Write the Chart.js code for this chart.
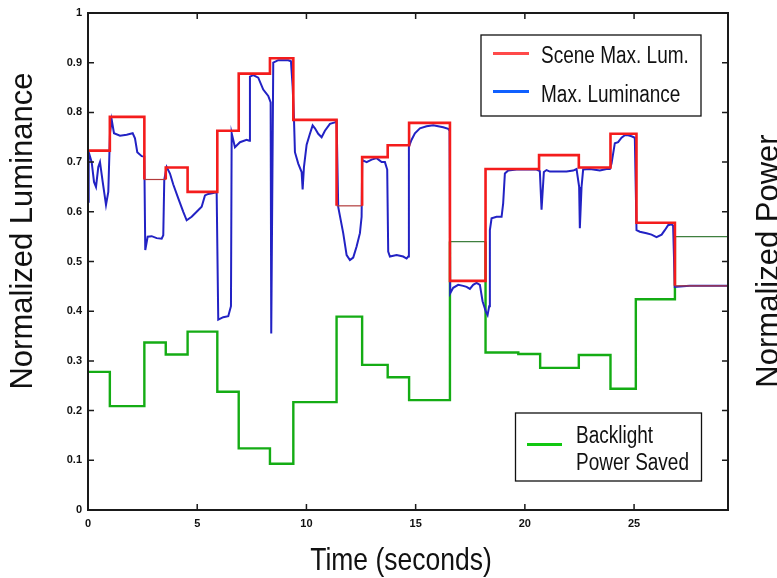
<!DOCTYPE html>
<html>
<head>
<meta charset="utf-8">
<title>Luminance and backlight power</title>
<script src="https://cdn.jsdelivr.net/npm/chart.js@4.4.1/dist/chart.umd.min.js"></script>
<style>
  html, body { margin: 0; padding: 0; background: #fff; }
  #wrap { width: 777px; height: 578px; }
</style>
</head>
<body>
<div id="wrap"><canvas id="lumChart" width="777" height="578"></canvas></div>
<script>
// Scene max luminance: level holds from each start time to the next one
const sceneTimes = [0, 1.0, 2.58, 3.56, 4.56, 5.92, 6.9, 8.33, 9.4, 11.38, 12.55, 13.72, 14.7, 16.57, 18.2, 20.65, 22.47, 23.92, 25.11, 26.87];
const sceneMaxLum = [0.723, 0.791, 0.665, 0.689, 0.640, 0.763, 0.878, 0.909, 0.785, 0.612, 0.710, 0.734, 0.779, 0.461, 0.686, 0.714, 0.689, 0.757, 0.578, 0.451];

// Measured max luminance (seconds, normalized)
const lumTimes = [
  0, 0.032, 0.169, 0.275, 0.366, 0.471, 0.549, 0.673, 0.824, 0.929,
  1.007, 1.085, 1.190, 1.465, 1.771, 2.046, 2.151, 2.256, 2.458, 2.577,
  2.622, 2.732, 2.915, 3.144, 3.373, 3.446, 3.492, 3.602, 3.753, 3.904,
  4.133, 4.362, 4.517, 4.746, 4.975, 5.204, 5.355, 5.506, 5.735, 5.890,
  5.963, 6.192, 6.421, 6.545, 6.577, 6.728, 6.957, 7.263, 7.382, 7.414,
  7.565, 7.794, 8.023, 8.252, 8.362, 8.389, 8.481, 8.709, 8.938, 9.167,
  9.291, 9.368, 9.428, 9.474, 9.625, 9.780, 9.826, 9.886, 10.009, 10.160,
  10.284, 10.389, 10.540, 10.696, 10.847, 11.076, 11.304, 11.382, 11.455, 11.684,
  11.840, 11.991, 12.142, 12.297, 12.449, 12.526, 12.554, 12.755, 12.984, 13.213,
  13.442, 13.593, 13.698, 13.744, 13.822, 14.128, 14.430, 14.586, 14.659, 14.691,
  14.815, 14.966, 15.195, 15.501, 15.803, 16.032, 16.261, 16.490, 16.554, 16.581,
  16.719, 16.947, 17.176, 17.332, 17.483, 17.634, 17.789, 17.941, 18.064, 18.215,
  18.293, 18.366, 18.398, 18.476, 18.705, 18.934, 19.007, 19.085, 19.236, 19.620,
  20.078, 20.535, 20.686, 20.764, 20.870, 20.993, 21.144, 21.451, 21.908, 22.211,
  22.366, 22.485, 22.517, 22.595, 22.668, 22.975, 23.432, 23.739, 23.890, 23.968,
  24.119, 24.270, 24.426, 24.577, 24.728, 24.883, 25.034, 25.112, 25.263, 25.570,
  25.799, 26.027, 26.261, 26.407, 26.558, 26.714, 26.787, 26.865, 27.551, 29.3
];
const lumValues = [
  0.62, 0.72, 0.70, 0.66, 0.65, 0.69, 0.70, 0.66, 0.614, 0.64,
  0.758, 0.785, 0.758, 0.753, 0.755, 0.758, 0.748, 0.72, 0.712, 0.711,
  0.523, 0.55, 0.551, 0.547, 0.546, 0.553, 0.665, 0.69, 0.677, 0.655,
  0.627, 0.600, 0.583, 0.59, 0.60, 0.61, 0.633, 0.636, 0.638, 0.640,
  0.383, 0.388, 0.39, 0.41, 0.758, 0.73, 0.74, 0.745, 0.743, 0.872,
  0.875, 0.87, 0.846, 0.833, 0.82, 0.355, 0.90, 0.905, 0.905, 0.905,
  0.903, 0.852, 0.79, 0.72, 0.697, 0.68, 0.645, 0.69, 0.735, 0.757,
  0.774, 0.768, 0.757, 0.75, 0.763, 0.777, 0.78, 0.782, 0.61, 0.557,
  0.513, 0.503, 0.508, 0.53, 0.557, 0.59, 0.704, 0.70, 0.705, 0.708,
  0.70, 0.70, 0.685, 0.52, 0.51, 0.513, 0.51, 0.506, 0.51, 0.731,
  0.745, 0.758, 0.768, 0.772, 0.774, 0.772, 0.77, 0.767, 0.763, 0.436,
  0.447, 0.453, 0.451, 0.449, 0.445, 0.453, 0.457, 0.453, 0.42, 0.399,
  0.392, 0.41, 0.563, 0.587, 0.59, 0.59, 0.617, 0.677, 0.683, 0.685,
  0.685, 0.685, 0.682, 0.604, 0.68, 0.684, 0.681, 0.681, 0.681, 0.683,
  0.686, 0.65, 0.567, 0.65, 0.685, 0.686, 0.683, 0.686, 0.686, 0.697,
  0.738, 0.74, 0.749, 0.754, 0.754, 0.752, 0.749, 0.563, 0.56, 0.557,
  0.554, 0.549, 0.554, 0.563, 0.573, 0.575, 0.572, 0.449, 0.451, 0.451
];

// Backlight power saved, also piecewise constant
const powerTimes = [0, 1.0, 2.58, 3.56, 4.56, 5.92, 6.9, 8.33, 9.4, 11.38, 12.55, 13.72, 14.7, 16.57, 18.2, 19.7, 20.7, 22.47, 23.92, 25.08, 26.87];
const powerSaved = [0.278, 0.209, 0.337, 0.313, 0.359, 0.238, 0.124, 0.093, 0.217, 0.389, 0.292, 0.267, 0.221, 0.540, 0.317, 0.314, 0.286, 0.312, 0.244, 0.424, 0.550];

const endTime = 29.3;
const xTicks = [0, 5, 10, 15, 20, 25];
const xTickLabels = ['0', '5', '10', '15', '20', '25'];
const yTicks = [0, 0.1, 0.2, 0.3, 0.4, 0.5, 0.6, 0.7, 0.8, 0.9, 1];
const yTickLabels = ['0', '0.1', '0.2', '0.3', '0.4', '0.5', '0.6', '0.7', '0.8', '0.9', '1'];

// step levels printed with a thin hairline in the original plot
const thinSceneSteps = [2, 9, 19];
const thinPowerSteps = [13, 20];

const FONT = '"Liberation Sans", Arial, Helvetica, sans-serif';

// corner points of a step line: each level runs flat to the next start time, then jumps
function stepCorners(times, levels) {
  const pts = [];
  levels.forEach((lv, i) => {
    const t1 = i + 1 < times.length ? times[i + 1] : endTime;
    pts.push({ x: times[i], y: lv }, { x: t1, y: lv });
  });
  return pts;
}

// segment styling: even start index = flat part of step (index / 2)
function stepStyle(thin, normal, hair) {
  return ctx => {
    const i = ctx.p0DataIndex;
    if (i % 2 === 0 && thin.includes(i / 2)) return hair;
    return normal;
  };
}

// horizontal text, stretched vertically around its baseline
function drawText(ctx, text, x, y, size, sy, align) {
  ctx.save();
  ctx.translate(x, y);
  ctx.scale(1, sy);
  ctx.font = size + 'px ' + FONT;
  ctx.textAlign = align || 'left';
  ctx.textBaseline = 'alphabetic';
  ctx.fillText(text, 0, 0);
  ctx.restore();
}

// text reading bottom to top, x is the baseline
function drawUpText(ctx, text, x, y, size) {
  ctx.save();
  ctx.translate(x, y);
  ctx.rotate(-Math.PI / 2);
  ctx.font = size + 'px ' + FONT;
  ctx.textAlign = 'center';
  ctx.textBaseline = 'alphabetic';
  ctx.fillText(text, 0, 0);
  ctx.restore();
}

function legendBox(ctx, x, y, w, h) {
  ctx.fillStyle = '#fff';
  ctx.fillRect(x, y, w, h);
  ctx.strokeStyle = '#111';
  ctx.lineWidth = 1.3;
  ctx.strokeRect(x, y, w, h);
}

function sample(ctx, x1, x2, y, color) {
  ctx.strokeStyle = color;
  ctx.lineWidth = 3;
  ctx.beginPath();
  ctx.moveTo(x1, y);
  ctx.lineTo(x2, y);
  ctx.stroke();
}

const framePlugin = {
  id: 'frame',
  afterDatasetsDraw(chart) {
    const { ctx, chartArea: a, scales: { x, y } } = chart;
    ctx.save();

    // axes box
    ctx.strokeStyle = '#1a1a1a';
    ctx.lineWidth = 2;
    ctx.strokeRect(a.left, a.top, a.right - a.left, a.bottom - a.top);

    // tick marks point inwards on all four sides
    ctx.lineWidth = 1.5;
    ctx.beginPath();
    xTicks.forEach(v => {
      const px = x.getPixelForValue(v);
      ctx.moveTo(px, a.bottom); ctx.lineTo(px, a.bottom - 6);
      ctx.moveTo(px, a.top); ctx.lineTo(px, a.top + 6);
    });
    yTicks.forEach(v => {
      const py = y.getPixelForValue(v);
      ctx.moveTo(a.left, py); ctx.lineTo(a.left + 6, py);
      ctx.moveTo(a.right, py); ctx.lineTo(a.right - 6, py);
    });
    ctx.stroke();

    // legends
    legendBox(ctx, 481, 35, 220, 81);
    sample(ctx, 493, 529, 53.5, '#ff4a4a');
    sample(ctx, 493, 529, 91.5, '#1060ff');
    ctx.fillStyle = '#111';
    drawText(ctx, 'Scene Max. Lum.', 541, 63.3, 19, 1.22);
    drawText(ctx, 'Max. Luminance', 541, 102.3, 19, 1.22);

    legendBox(ctx, 515.5, 413, 186, 68);
    sample(ctx, 527, 562, 444.5, '#12c812');
    ctx.fillStyle = '#111';
    drawText(ctx, 'Backlight', 576, 443.3, 19, 1.22);
    drawText(ctx, 'Power Saved', 576, 470, 19, 1.22);

    // axis titles
    drawText(ctx, 'Time (seconds)', 401, 570, 26.5, 1.2, 'center');
    drawUpText(ctx, 'Normalized Luminance', 32, 231, 31);
    drawUpText(ctx, 'Normalized Power', 778, 261, 31);

    ctx.restore();
  }
};

new Chart(document.getElementById('lumChart'), {
  type: 'line',
  data: {
    datasets: [
      {
        label: 'Scene Max. Lum.',
        data: stepCorners(sceneTimes, sceneMaxLum),
        borderColor: '#f41c1c',
        borderWidth: 2.6,
        segment: {
          borderWidth: stepStyle(thinSceneSteps, 2.6, 1.2),
          borderColor: stepStyle(thinSceneSteps, '#f41c1c', '#b23a3a')
        }
      },
      {
        label: 'Max. Luminance',
        data: lumTimes.map((t, i) => ({ x: t, y: lumValues[i] })),
        borderColor: '#2222c4',
        borderWidth: 2
      },
      {
        label: 'Backlight Power Saved',
        data: stepCorners(powerTimes, powerSaved),
        borderColor: '#14ac14',
        borderWidth: 2.4,
        segment: {
          borderWidth: stepStyle(thinPowerSteps, 2.4, 1.2),
          borderColor: stepStyle(thinPowerSteps, '#14ac14', '#3f7f3f')
        }
      }
    ]
  },
  options: {
    responsive: false,
    animation: false,
    devicePixelRatio: 1,
    layout: { padding: { left: 0, right: 49, top: 13, bottom: 0 } },
    elements: { point: { radius: 0 }, line: { tension: 0 } },
    plugins: { legend: { display: false }, tooltip: { enabled: false } },
    scales: {
      x: {
        type: 'linear',
        min: 0,
        max: endTime,
        afterBuildTicks: s => { s.ticks = xTicks.map(v => ({ value: v })); },
        afterFit: s => { s.height = 68; },
        grid: { display: false, drawTicks: false },
        border: { display: false },
        ticks: {
          padding: 7,
          color: '#111',
          font: { family: FONT, size: 11, weight: 'bold' },
          maxRotation: 0,
          callback: (v, i) => xTickLabels[i]
        }
      },
      y: {
        type: 'linear',
        min: 0,
        max: 1,
        afterBuildTicks: s => { s.ticks = yTicks.map(v => ({ value: v })); },
        afterFit: s => { s.width = 88; },
        grid: { display: false, drawTicks: false },
        border: { display: false },
        ticks: {
          padding: 6,
          color: '#111',
          font: { family: FONT, size: 11, weight: 'bold' },
          callback: (v, i) => yTickLabels[i]
        }
      }
    }
  },
  plugins: [framePlugin]
});
</script>
</body>
</html>
